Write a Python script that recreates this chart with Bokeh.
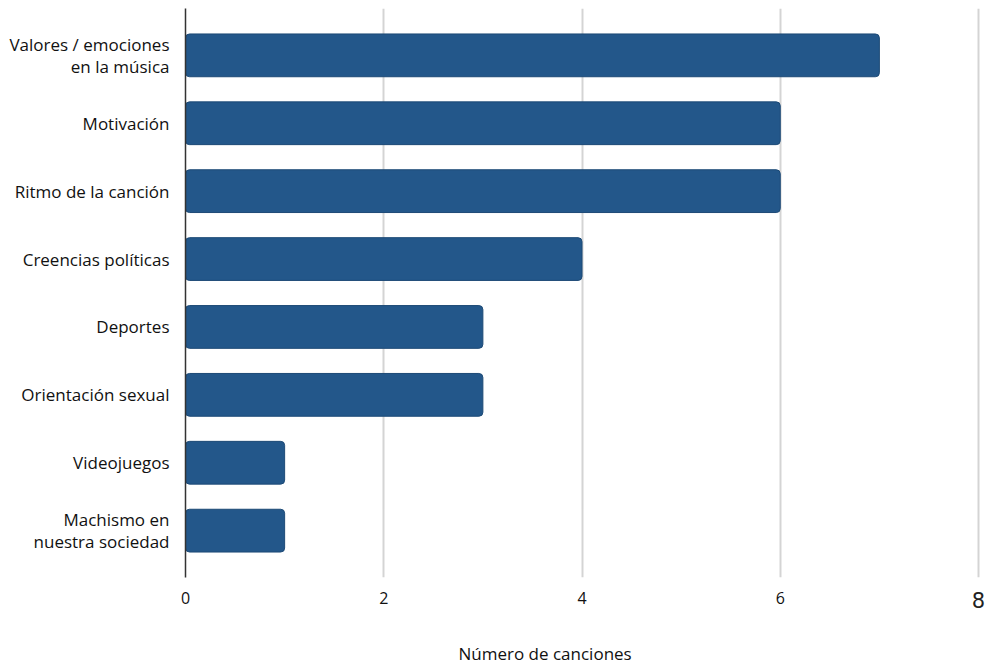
from bokeh.plotting import figure
from bokeh.models import Range1d, FixedTicker, Title, LinearAxis, ColumnDataSource
from bokeh.embed import file_html
from bokeh.resources import INLINE

categories = ["Valores / emociones\nen la música", "Motivación", "Ritmo de la canción",
              "Creencias políticas", "Deportes", "Orientación sexual", "Videojuegos",
              "Machismo en\nnuestra sociedad"]
values = [7, 6, 6, 4, 3, 3, 1, 1]
x_ticks = [0, 2, 4, 6]
x_tick_last = [8]

FONT = "Open Sans"
positions = list(range(len(categories)))

src = ColumnDataSource(dict(y=positions, right=values))

p = figure(width=1002, height=672, output_backend="svg", toolbar_location=None,
           x_range=Range1d(0, 8.02), y_range=Range1d(7.69, -0.69),
           min_border_left=185, min_border_right=22, min_border_top=8, min_border_bottom=95)
p.outline_line_color = None
p.background_fill_color = "white"

p.hbar(y="y", left=0, right="right", height=0.63, source=src,
       fill_color="#23578A", line_color="#1d4a76", line_width=1, border_radius=4)

# x axis
p.xaxis.ticker = FixedTicker(ticks=x_ticks)
p.xaxis.axis_line_color = None
p.xaxis.major_tick_line_color = None
p.xaxis.minor_tick_line_color = None
p.xaxis.major_tick_out = 0
p.xaxis.major_tick_in = 0
p.xaxis.major_label_text_font = FONT
p.xaxis.major_label_text_font_size = "16px"
p.xaxis.major_label_text_color = "#111111"
p.xaxis.major_label_standoff = 14

ax8 = LinearAxis(ticker=FixedTicker(ticks=x_tick_last), axis_line_color=None,
                 major_tick_line_color=None, minor_tick_line_color=None,
                 major_tick_out=0, major_tick_in=0,
                 major_label_text_font="DejaVu Sans", major_label_text_font_size="21px",
                 major_label_text_color="#222222", major_label_standoff=-15)
p.add_layout(ax8, "below")

# invisible spacer between the tick labels and the axis title
spacer = LinearAxis(ticker=FixedTicker(ticks=[0]), axis_line_color=None,
                    major_tick_line_color=None, minor_tick_line_color=None,
                    major_tick_out=23, major_tick_in=0, major_label_standoff=0,
                    major_label_overrides={0: ""}, major_label_text_font_size="1px")
p.add_layout(spacer, "below")

# y axis
p.yaxis.ticker = FixedTicker(ticks=positions)
p.yaxis.major_label_overrides = {i: c for i, c in enumerate(categories)}
p.yaxis.axis_line_color = "#333333"
p.yaxis.axis_line_width = 1.5
p.yaxis.major_tick_line_color = None
p.yaxis.minor_tick_line_color = None
p.yaxis.major_tick_out = 0
p.yaxis.major_tick_in = 0
p.yaxis.major_label_text_font = FONT
p.yaxis.major_label_text_font_size = "17px"
p.yaxis.major_label_text_color = "#111111"
p.yaxis.major_label_text_line_height = 0.98
p.yaxis.major_label_standoff = 16
p.yaxis.major_label_text_align = "right"

p.xgrid.ticker = FixedTicker(ticks=[2, 4, 6, 8])
p.xgrid.grid_line_color = "#d4d4d4"
p.xgrid.grid_line_width = 2
p.ygrid.grid_line_color = None

p.add_layout(Title(text="Número de canciones", align="left", offset=273,
                   text_font=FONT, text_font_size="17px", text_font_style="normal",
                   text_color="#111111", standoff=12), "below")

open("out.html", "w").write(file_html(p, INLINE))
